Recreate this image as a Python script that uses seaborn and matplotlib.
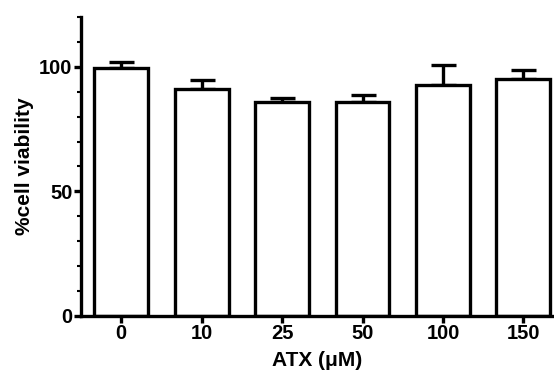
import matplotlib
matplotlib.use("Agg")
import matplotlib.pyplot as plt
import seaborn as sns
import pandas as pd
import numpy as np
from matplotlib.ticker import MultipleLocator

categories = ["0", "10", "25", "50", "100", "150"]
viability = [99.6, 91.0, 86.0, 85.8, 92.7, 95.2]
sem = [2.4, 3.8, 1.6, 2.9, 8.1, 3.7]

sns.set_style("ticks")
plt.rcParams['font.family'] = ['Liberation Sans', 'DejaVu Sans']
plt.rcParams['font.weight'] = 'bold'
plt.rcParams['text.color'] = 'black'
plt.rcParams['axes.labelcolor'] = 'black'
plt.rcParams['xtick.color'] = 'black'
plt.rcParams['ytick.color'] = 'black'
plt.rcParams['axes.edgecolor'] = 'black'

df = pd.DataFrame({"dose": categories, "viability": viability})

fig = plt.figure(figsize=(5.54, 3.72), dpi=100)
ax = fig.add_axes([0.146, 0.151, 0.854, 0.803])
sns.barplot(data=df, x="dose", y="viability", ax=ax, color="white",
            edgecolor="black", linewidth=2.4, width=0.67, errorbar=None, zorder=2)
x = np.arange(len(categories))
ax.errorbar(x, viability, yerr=[np.zeros(len(sem)), sem], fmt="none",
            ecolor="black", elinewidth=2.4, capsize=9, capthick=2.4, zorder=1)

ax.set_ylim(0, 120)
ax.set_xlim(-0.5, 5.38)
ax.yaxis.set_minor_locator(MultipleLocator(10))
ax.set_yticks([0, 50, 100])
for s in ["top", "right"]:
    ax.spines[s].set_visible(False)
for s in ["left", "bottom"]:
    ax.spines[s].set_linewidth(2.4)
    ax.spines[s].set_color("black")
ax.tick_params(axis="both", which="major", width=2.4, length=5, labelsize=14.5, pad=1,
               colors="black")
ax.tick_params(axis="y", which="minor", width=1.5, length=3, colors="black")
for lab in ax.get_xticklabels() + ax.get_yticklabels():
    lab.set_fontweight("bold")
ax.set_xlabel("ATX (\u03bcM)", fontsize=15, fontweight="bold", labelpad=6, color="black")
ax.set_ylabel("%cell viability", fontsize=15, fontweight="bold", labelpad=4, color="black")

fig.savefig("out.png", dpi=100)
